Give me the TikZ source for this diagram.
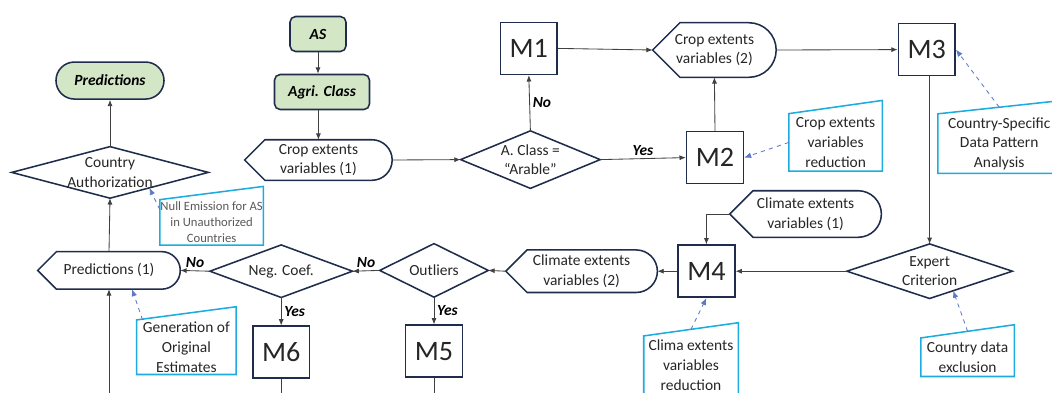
\documentclass[tikz,border=0pt]{standalone}
\usepackage{fontspec}
\setmainfont{Carlito}
\usetikzlibrary{positioning,calc,arrows.meta}

\definecolor{navy}{HTML}{1F2C4C}
\definecolor{leaf}{HTML}{D3E7C6}
\definecolor{noteblue}{HTML}{1CACDF}
\definecolor{hintblue}{HTML}{5A7BC4}
\definecolor{wire}{HTML}{404040}
\definecolor{ink}{HTML}{262626}

\begin{document}
\begin{tikzpicture}[font=\fontsize{11}{14}\selectfont, text=ink,
    flow/.style={draw=wire, line width=0.6pt, -{Latex[length=4.5pt,width=3.6pt]}},
    hint/.style={draw=hintblue, dashed, line width=0.6pt, -{Latex[length=5pt,width=4pt]}},
    edge/.style={draw=navy, line width=1.1pt},
    noteline/.style={draw=noteblue, line width=1.1pt},
    model/.style={edge, minimum width=1.42cm, minimum height=1.3cm, inner sep=0pt, font=\fontsize{20}{21}\selectfont},
    term/.style={edge, fill=leaf, rounded corners=4pt, minimum height=0.875cm, inner sep=0pt, text=black, font=\fontsize{11}{14}\bfseries\itshape},
    display/.style={inner sep=0pt, align=center},
    decision/.style={inner sep=0pt, align=center},
    note/.style={inner sep=0pt, align=center},
    answer/.style={inner sep=2pt, text=black, font=\fontsize{11}{14}\bfseries\itshape}]

    \useasboundingbox (0,0) rectangle (26.3,-9.8);
    \clip (0,0) rectangle (26.3,-9.8);
    \coordinate (bot) at (0,-10.2);

    % top branch
    \node[term, minimum width=1.4cm] (as) at (7.95,-0.85) {AS};
    \node[term, minimum width=2.375cm] (agri) at (8.05,-2.3) {Agri. Class};
    \node[display, minimum width=3.675cm, minimum height=1cm] (crop1) at (7.96,-4.0) {Crop extents\\variables (1)};
    \node[decision, minimum width=3.475cm, minimum height=1.425cm] (aclass) at (13.26,-3.99) {A. Class =\\“Arable”};
    \node[model] (m1) at (13.22,-1.21) {M1};
    \node[model] (m2) at (17.875,-3.94) {M2};
    \node[display, minimum width=3.075cm, minimum height=1.35cm] (crop2) at (17.86,-1.25) {Crop extents\\variables (2)};
    \node[model] (m3) at (23.17,-1.24) {M3};

    % middle row
    \node[decision, minimum width=4.125cm, minimum height=1.35cm] (expert) at (23.24,-6.78) {Expert\\Criterion};
    \node[display, minimum width=3.775cm, minimum height=1.15cm] (clim1) at (20.14,-5.35) {Climate extents\\variables (1)};
    \node[model] (m4) at (17.66,-6.78) {M4};
    \node[display, minimum width=3.775cm, minimum height=1.05cm] (clim2) at (14.54,-6.78) {Climate extents\\variables (2)};
    \node[decision, minimum width=2.7cm, minimum height=1.325cm] (outl) at (10.85,-6.76) {Outliers};
    \node[decision, minimum width=3.55cm, minimum height=1.3cm] (negc) at (7.03,-6.78) {Neg. Coef.};
    \node[display, minimum width=3.55cm, minimum height=0.925cm] (pred1) at (2.725,-6.76) {Predictions (1)};
    \node[model] (m5) [below=0.68cm of outl] {M5};
    \node[model] (m6) [below=0.7cm of negc] {M6};

    % left column
    \node[decision, minimum width=4.9cm, minimum height=1.275cm] (cauth) at (2.75,-4.31) {Country\\Authorization};
    \node[term, minimum width=2.7cm, minimum height=0.925cm, rounded corners=0.46cm] (pred) [above=1.17cm of cauth] {Predictions};

    % notes
    \node[note, minimum width=2.325cm, minimum height=1.425cm] (ncrop) at (20.89,-3.56) {Crop extents\\variables\\reduction};
    \node[note, minimum width=3.05cm, minimum height=1.475cm] (nspec) at (24.98,-3.59) {Country-Specific\\Data Pattern\\Analysis};
    \node[note, minimum width=2.325cm, minimum height=0.95cm] (ndata) at (24.19,-8.93) {Country data\\exclusion};
    \node[note, minimum width=2.35cm, minimum height=1.45cm] (nclima) at (17.275,-9.13) {Clima extents\\variables\\reduction};
    \node[note, minimum width=2.475cm, minimum height=1.35cm] (ngen) at (4.66,-8.68) {Generation of\\Original\\Estimates};
    \node[note, minimum width=2.575cm, minimum height=1.125cm, text=black!65, font=\fontsize{9}{11.5}\selectfont] (nnull) at (5.29,-5.56) {Null Emission for AS\\in Unauthorized\\Countries};

    % outlines
    \foreach \nm in {crop1,crop2,clim1,clim2,pred1}
        \draw[edge] let \p1=(\nm.north east), \p2=(\nm.south west), \n1={0.5*(\y1-\y2)} in
            (\nm.west) -- (\x2+\n1,\y1) -- (\x1-\n1,\y1) arc[start angle=90, end angle=-90, radius=\n1] -- (\x2+\n1,\y2) -- cycle;
    \foreach \nm in {aclass,cauth,negc,outl,expert}
        \draw[edge] (\nm.north) -- (\nm.east) -- (\nm.south) -- (\nm.west) -- cycle;
    \foreach \nm in {ncrop,nspec,nnull,ngen,nclima,ndata}
        \draw[noteline] (\nm.south west) -- (\nm.north west) -- ([yshift=0.33cm]\nm.north east) -- (\nm.south east) -- cycle;

    % connectors
    \draw[flow] (as.south) -- (as.south |- agri.north);
    \draw[flow] (crop1.north |- agri.south) -- (crop1.north);
    \draw[flow] (crop1.east) -- (aclass.west);
    \draw[flow] (aclass.north) -- (m1.south) node[midway, right, answer] {No};
    \draw[flow] (aclass.east) -- (m2.west) node[midway, above, answer] {Yes};
    \draw[flow] (m1.east) -- (crop2.west);
    \draw[flow] (m2.north) -- (crop2.south);
    \draw[flow] (crop2.east) -- (m3.west);
    \draw[flow] (expert.north |- m3.south) -- (expert.north);
    \draw[flow] (expert.west) -- (m4.east);
    \draw[flow] (clim1.west) -| (m4.north);
    \draw[flow] (m4.west) -- (clim2.east);
    \draw[flow] (clim2.west) -- (outl.east);
    \draw[flow] (outl.west) -- (negc.east) node[midway, above, answer] {No};
    \draw[flow] (outl.south) -- (m5.north) node[midway, right, answer] {Yes};
    \draw[flow] (negc.west) -- (pred1.east) node[midway, above, answer] {No};
    \draw[flow] (negc.south) -- (m6.north) node[midway, right, answer] {Yes};
    \draw[flow] (pred1.south |- bot) -- (pred1.south);
    \draw[flow] (pred1.north) -- (cauth.south);
    \draw[flow] (cauth.north) -- (pred.south);
    \draw[draw=wire, line width=0.6pt] (m6.south) -- (m6.south |- bot);
    \draw[draw=wire, line width=0.6pt] (m5.south) -- (m5.south |- bot);

    % note pointers
    \draw[hint] (ncrop.west) -- (m2.east);
    \draw[hint] ([yshift=0.165cm]nspec.north) -- (m3.east);
    \draw[hint] ([yshift=0.165cm]nclima.north) -- (m4.south);
    \draw[hint] ([yshift=0.165cm]ndata.north) -- ($(expert.south)!0.285!(expert.east)$);
    \draw[hint] ([xshift=0.15cm]ngen.north west) -- ([xshift=0.575cm]pred1.south);
    \draw[hint] ([yshift=-0.25cm]nnull.north west) -- ($(cauth.south)!0.4!(cauth.east)$);

\end{tikzpicture}
\end{document}
